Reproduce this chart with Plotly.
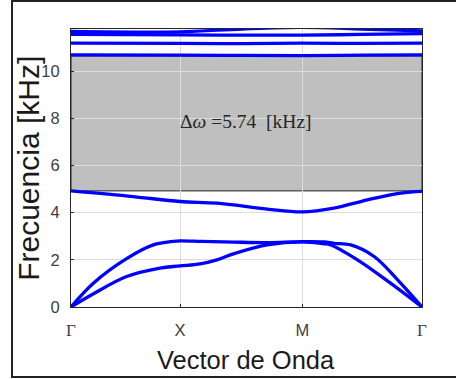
import plotly.graph_objects as go

# Path positions (Gamma, X, M, Gamma)
tick_pos = [0, 108.7, 230.4, 349.7]
tick_text = ['<span style="font-family:Liberation Serif;font-size:17px">Γ</span>', 'X', 'M',
             '<span style="font-family:Liberation Serif;font-size:17px">Γ</span>']

# Band data (x: path position, y: frequency kHz)
b1_x = [0, 22, 55.4, 88.7, 108.7, 128.7, 145.4, 161.7, 195.4, 230.4, 252, 258.7, 285.4, 318.7, 349.7]
b1_y = [0, 0.55, 1.29, 1.65, 1.74, 1.83, 2.0, 2.25, 2.63, 2.76, 2.68, 2.63, 2.0, 1.0, 0]

b2_x = [0, 22, 55.4, 82, 102, 108.7, 130, 162, 195, 230.4, 252, 262, 278.7, 302, 325.4, 349.7]
b2_y = [0, 1.0, 2.05, 2.63, 2.78, 2.80, 2.78, 2.75, 2.73, 2.77, 2.76, 2.70, 2.63, 2.14, 1.15, 0]

b3_x = [0, 62, 108.7, 145.4, 195.4, 230.4, 262, 295.4, 328.7, 349.7]
b3_y = [4.92, 4.68, 4.47, 4.40, 4.15, 4.03, 4.19, 4.54, 4.83, 4.90]

b4_x = [0, 108.7, 170, 230.4, 290, 349.7]
b4_y = [10.68, 10.67, 10.66, 10.65, 10.67, 10.68]

b5_x = [0, 108.7, 170, 230.4, 290, 349.7]
b5_y = [11.18, 11.17, 11.16, 11.18, 11.17, 11.18]

b6_x = [0, 108.7, 170, 230.4, 290, 349.7]
b6_y = [11.55, 11.53, 11.52, 11.52, 11.55, 11.58]

b7_x = [0, 108.7, 170, 230.4, 290, 349.7]
b7_y = [11.68, 11.66, 11.78, 11.85, 11.78, 11.70]

bands = [(b1_x, b1_y), (b2_x, b2_y), (b3_x, b3_y), (b4_x, b4_y),
         (b5_x, b5_y), (b6_x, b6_y), (b7_x, b7_y)]

gap_low = 4.92
gap_high = 10.64
gap_label = "Δ<i>ω</i> =5.74  [kHz]"

y_ticks = [0, 2, 4, 6, 8, 10]
x_title = "Vector de Onda"
y_title = "Frecuencia [kHz]"

fig = go.Figure()
for bx, by in bands:
    fig.add_trace(go.Scatter(x=bx, y=by, mode="lines", line=dict(color="#0000ff", width=3.3, shape="spline"),
                             showlegend=False, hoverinfo="skip"))

fig.add_shape(type="rect", xref="x", yref="y", x0=tick_pos[0], x1=tick_pos[-1], y0=gap_low, y1=gap_high,
              fillcolor="rgba(128,128,128,0.5)", line=dict(color="#222222", width=1), layer="below")

# outer frame
fig.add_shape(type="rect", xref="paper", yref="paper", x0=-0.168, x1=1.3, y0=-0.252, y1=1.101,
              line=dict(color="#222222", width=2), fillcolor="rgba(0,0,0,0)")

fig.add_annotation(x=(tick_pos[0] + tick_pos[-1]) / 2 - 1, y=7.86, xref="x", yref="y", text=gap_label,
                   showarrow=False, font=dict(family="Liberation Serif", size=19.5, color="#262626"))

# axis titles
fig.add_annotation(x=-0.123, y=0.50, xref="paper", yref="paper", text=y_title, textangle=-90,
                   showarrow=False, xanchor="center", yanchor="middle",
                   font=dict(family="Liberation Sans", size=30, color="#1a1a1a"))
fig.add_annotation(x=0.498, y=-0.19, xref="paper", yref="paper", text=x_title,
                   showarrow=False, xanchor="center", yanchor="middle",
                   font=dict(family="Liberation Sans", size=25.5, color="#1a1a1a"))

tick_font = dict(family="Liberation Sans", size=16.5, color="#404040")

fig.update_layout(
    width=456, height=379,
    margin=dict(l=71, r=34, t=29, b=72),
    paper_bgcolor="white", plot_bgcolor="white",
    font=dict(family="Liberation Sans", color="#333333"),
)
fig.update_xaxes(range=[tick_pos[0], tick_pos[-1]], tickvals=tick_pos, ticktext=tick_text,
                 showgrid=True, gridcolor="#dcdcdc", gridwidth=1, zeroline=False,
                 showline=True, linecolor="#262626", linewidth=1, mirror=True,
                 ticks="inside", ticklen=3, tickcolor="#262626", tickfont=tick_font,
                 ticklabelstandoff=8)
fig.update_yaxes(range=[0, 11.78], tickvals=y_ticks, showgrid=True, gridcolor="#dcdcdc", gridwidth=1,
                 zeroline=False, showline=True, linecolor="#262626", linewidth=1, mirror=True,
                 ticks="inside", ticklen=3, tickcolor="#262626", tickfont=tick_font,
                 ticklabelstandoff=7)

fig.write_html("out.html")
